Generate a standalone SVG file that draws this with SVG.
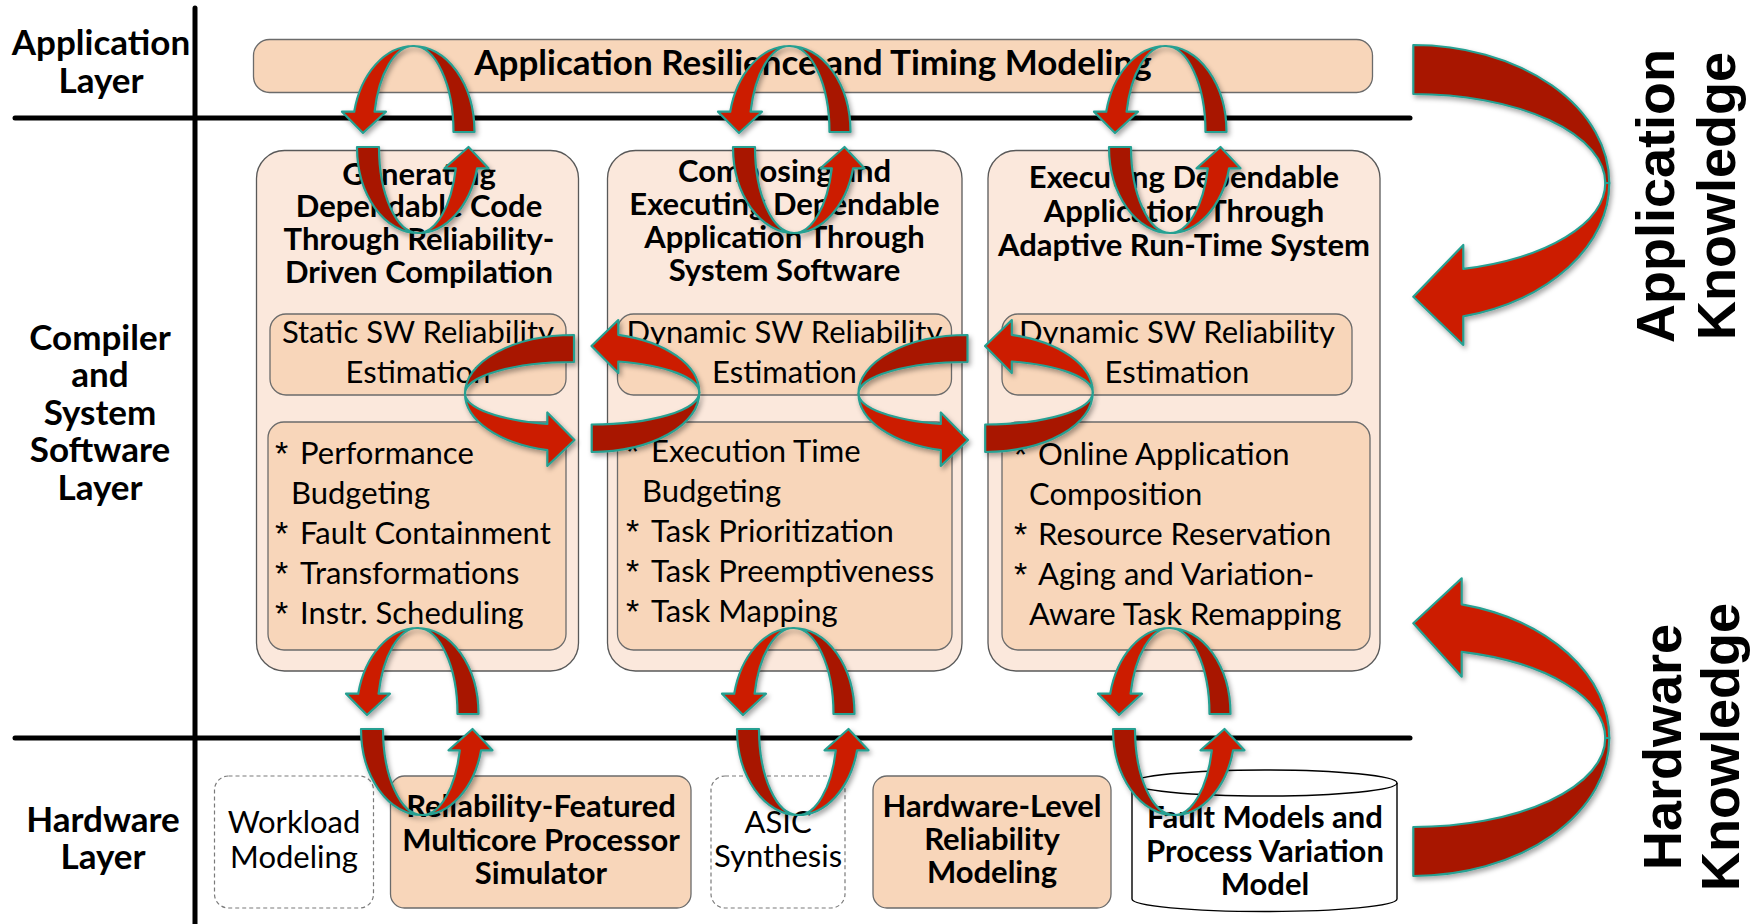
<svg xmlns="http://www.w3.org/2000/svg" xmlns:xlink="http://www.w3.org/1999/xlink" width="1763" height="924" viewBox="0 0 1763 924">
<style>
.t{font-family:Lato,'Liberation Sans',sans-serif;fill:#000}
.lbl{font-weight:700;font-size:35px;text-anchor:middle}
.ttl{font-weight:700;font-size:31px;text-anchor:middle}
.reg{font-weight:400;font-size:31px}
.mid{text-anchor:middle}
.ast{font-family:'Liberation Sans',Arial,sans-serif;font-size:34px}
.vt{font-family:'Liberation Sans',Arial,sans-serif;font-weight:700;font-size:54px;text-anchor:middle;fill:#000}
.peach{fill:#F8D6BA;stroke:#6b6b6b;stroke-width:1.3}
.pale{fill:#FBE8DC;stroke:#595959;stroke-width:1.3}
.dash{fill:#fff;stroke:#7a7a7a;stroke-width:1.2;stroke-dasharray:4 3}
.rule{stroke:#000;stroke-width:5;stroke-linecap:round;fill:none}
.lt{fill:#CC1F00;stroke:#26A092;stroke-width:2.2;stroke-linejoin:round}
.dk{fill:#A81800;stroke:#26A092;stroke-width:2.2;stroke-linejoin:round}
</style>
<defs>
<filter id="sh" x="-20%" y="-20%" width="140%" height="140%">
<feDropShadow dx="2" dy="3" stdDeviation="2.5" flood-color="#000" flood-opacity="0.35"/>
</filter>
<g id="vloop">
<path class="dk" d="M413.5,46 A61,86 0 0 1 474.5,132 L453.5,132 A40,86 0 0 0 413.5,46 Z"/>
<path class="lt" d="M413.5,46 A61,86 0 0 0 354.2,111.7 L342,111.7 L363,133 L386,111.7 L374.6,111.7 A40,86 0 0 1 413.5,46 Z"/>
<path class="dk" d="M357,147 A61,86 0 0 0 418,233 A39,86 0 0 1 379,147 Z"/>
<path class="lt" d="M418,233 A61,86 0 0 0 477.1,168.3 L488.5,168.3 L468.5,147 L444.5,168.3 L455.8,168.3 A39,86 0 0 1 418,233 Z"/>
</g>
<g id="hloop">
<path class="dk" d="M574,335 A109,58.5 0 0 0 465,393.5 A109,31.5 0 0 1 574,362 Z"/>
<path class="lt" d="M465,393.5 A109,58.5 0 0 0 547.3,450.2 L547.3,466 L574.5,440 L547.3,412.5 L547.3,424 A109,31.5 0 0 1 465,393.5 Z"/>
<path class="dk" d="M591.7,452 A107.6,59.5 0 0 0 699.3,392.5 A107.6,32 0 0 1 591.7,424.5 Z"/>
<path class="lt" d="M699.3,392.5 A107.6,59.5 0 0 0 618.3,334.8 L618.3,320 L591.5,346 L618.3,373 L618.3,361.5 A107.6,32 0 0 1 699.3,392.5 Z"/>
</g>
</defs>
<rect width="1763" height="924" fill="#fff"/>

<g id="rules">
<line class="rule" x1="195" y1="8" x2="195" y2="924"/>
<line class="rule" x1="15" y1="118" x2="1410" y2="118"/>
<line class="rule" x1="15" y1="738" x2="1410" y2="738"/>
</g>

<g id="layer-labels">
<text class="t lbl" x="101" y="55">Application</text>
<text class="t lbl" x="101" y="93">Layer</text>
<text class="t lbl" x="100" y="350">Compiler</text>
<text class="t lbl" x="100" y="387">and</text>
<text class="t lbl" x="100" y="425">System</text>
<text class="t lbl" x="100" y="462">Software</text>
<text class="t lbl" x="100" y="500">Layer</text>
<text class="t lbl" x="103" y="832">Hardware</text>
<text class="t lbl" x="103" y="869">Layer</text>
</g>

<g id="app-modeling">
<rect class="peach" x="253.5" y="39.5" width="1119" height="53" rx="16"/>
<text class="t lbl" x="813" y="75" font-size="34.5">Application Resilience and Timing Modeling</text>
</g>

<g id="col-compilation">
<rect class="pale" x="256.5" y="150.5" width="322" height="520.5" rx="28"/>
<text class="t ttl" x="419" y="185">Generating</text>
<text class="t ttl" x="419" y="217">Dependable Code</text>
<text class="t ttl" x="419" y="250">Through Reliability-</text>
<text class="t ttl" x="419" y="283">Driven Compilation</text>
</g>
<g id="static-est">
<rect class="peach" x="270" y="314" width="296" height="81" rx="16"/>
<text class="t reg mid" x="418" y="343">Static SW Reliability</text>
<text class="t reg mid" x="418" y="383">Estimation</text>
</g>
<g id="list-compilation">
<rect class="peach" x="268" y="422" width="298" height="228" rx="16"/>
<text class="t reg" x="300" y="464">Performance</text>
<text class="t reg" x="291" y="504">Budgeting</text>
<text class="t reg" x="300" y="544">Fault Containment</text>
<text class="t reg" x="300" y="584">Transformations</text>
<text class="t reg" x="300" y="624">Instr. Scheduling</text>
<text class="ast" x="275" y="465">*</text>
<text class="ast" x="275" y="545">*</text>
<text class="ast" x="275" y="585">*</text>
<text class="ast" x="275" y="625">*</text>
</g>

<g id="col-system-sw">
<rect class="pale" x="607.5" y="150.5" width="354.5" height="520.5" rx="28"/>
<text class="t ttl" x="784.5" y="182">Composing and</text>
<text class="t ttl" x="784.5" y="215">Executing Dependable</text>
<text class="t ttl" x="784.5" y="248">Application Through</text>
<text class="t ttl" x="784.5" y="281">System Software</text>
</g>
<g id="dynamic-est-1">
<rect class="peach" x="617.5" y="314" width="334" height="81" rx="16"/>
<text class="t reg mid" x="784.5" y="343">Dynamic SW Reliability</text>
<text class="t reg mid" x="784.5" y="383">Estimation</text>
</g>
<g id="list-system-sw">
<rect class="peach" x="617.5" y="422" width="334.5" height="228" rx="16"/>
<text class="t reg" x="651" y="462">Execution Time</text>
<text class="t reg" x="642" y="502">Budgeting</text>
<text class="t reg" x="651" y="542">Task Prioritization</text>
<text class="t reg" x="651" y="582">Task Preemptiveness</text>
<text class="t reg" x="651" y="622">Task Mapping</text>
<text class="ast" x="626" y="463">*</text>
<text class="ast" x="626" y="543">*</text>
<text class="ast" x="626" y="583">*</text>
<text class="ast" x="626" y="623">*</text>
</g>

<g id="col-runtime">
<rect class="pale" x="988" y="150.5" width="392" height="520.5" rx="28"/>
<text class="t ttl" x="1184" y="188">Executing Dependable</text>
<text class="t ttl" x="1184" y="222">Application Through</text>
<text class="t ttl" x="1184" y="256">Adaptive Run-Time System</text>
</g>
<g id="dynamic-est-2">
<rect class="peach" x="1002" y="314" width="350" height="81" rx="16"/>
<text class="t reg mid" x="1177" y="343">Dynamic SW Reliability</text>
<text class="t reg mid" x="1177" y="383">Estimation</text>
</g>
<g id="list-runtime">
<rect class="peach" x="1002" y="422" width="368" height="228" rx="16"/>
<text class="t reg" x="1038" y="465">Online Application</text>
<text class="t reg" x="1029" y="505">Composition</text>
<text class="t reg" x="1038" y="545">Resource Reservation</text>
<text class="t reg" x="1038" y="585">Aging and Variation-</text>
<text class="t reg" x="1029" y="625">Aware Task Remapping</text>
<text class="ast" x="1014" y="466">*</text>
<text class="ast" x="1014" y="546">*</text>
<text class="ast" x="1014" y="586">*</text>
</g>

<g id="workload">
<rect class="dash" x="214.5" y="776" width="159" height="132" rx="14"/>
<text class="t reg mid" x="294" y="833">Workload</text>
<text class="t reg mid" x="294" y="868">Modeling</text>
</g>
<g id="simulator">
<rect class="peach" x="390.5" y="776" width="300.5" height="132" rx="14"/>
<text class="t ttl" x="541" y="817">Reliability-Featured</text>
<text class="t ttl" x="541" y="851">Multicore Processor</text>
<text class="t ttl" x="541" y="884">Simulator</text>
</g>
<g id="asic">
<rect class="dash" x="711" y="776" width="134" height="132" rx="14"/>
<text class="t reg mid" x="778" y="833">ASIC</text>
<text class="t reg mid" x="778" y="867">Synthesis</text>
</g>
<g id="hw-reliability">
<rect class="peach" x="873" y="776" width="238" height="132" rx="14"/>
<text class="t ttl" x="992" y="817">Hardware-Level</text>
<text class="t ttl" x="992" y="850">Reliability</text>
<text class="t ttl" x="992" y="883">Modeling</text>
</g>
<g id="fault-models">
<path d="M1132,783 A132.5,13 0 0 1 1397,783 L1397,899 A132.5,12.5 0 0 1 1132,899 Z" fill="#fff" stroke="#000" stroke-width="1.4"/>
<path d="M1132,783 A132.5,13 0 0 0 1397,783" fill="none" stroke="#000" stroke-width="1.4"/>
<text class="t ttl" x="1265" y="828">Fault Models and</text>
<text class="t ttl" x="1265" y="862">Process Variation</text>
<text class="t ttl" x="1265" y="895">Model</text>
</g>

<g id="connectors" filter="url(#sh)">
<use xlink:href="#vloop"/>
<use xlink:href="#vloop" transform="translate(376,0)"/>
<use xlink:href="#vloop" transform="translate(752,0)"/>
<use xlink:href="#vloop" transform="translate(4,582)"/>
<use xlink:href="#vloop" transform="translate(380,582)"/>
<use xlink:href="#vloop" transform="translate(756,582)"/>
<use xlink:href="#hloop"/>
<use xlink:href="#hloop" transform="translate(393.5,0)"/>
<path class="dk" d="M1413.3,45 A196,138 0 0 1 1609.3,183 L1605.3,183 A192,89 0 0 0 1413.3,94 Z"/>
<path class="lt" d="M1609.3,183 A196,138 0 0 1 1463.3,316.4 L1463.3,345 L1413.3,296.7 L1463.3,245 L1463.3,268.9 A192,89 0 0 0 1605.3,183 Z"/>
<path class="dk" d="M1413.3,876 A196,138 0 0 0 1609.3,738 L1605.3,738 A192,89 0 0 1 1413.3,827 Z"/>
<path class="lt" d="M1609.3,738 A196,138 0 0 0 1461.7,604.3 L1461.7,578.3 L1413.3,623.3 L1461.7,676.7 L1461.7,651.9 A192,89 0 0 1 1605.3,738 Z"/>
</g>

<g id="knowledge-labels">
<text class="vt" transform="translate(1674,196) rotate(-90)">Application</text>
<text class="vt" transform="translate(1735,196) rotate(-90)">Knowledge</text>
<text class="vt" transform="translate(1681,747) rotate(-90)">Hardware</text>
<text class="vt" transform="translate(1739,747) rotate(-90)">Knowledge</text>
</g>
</svg>
